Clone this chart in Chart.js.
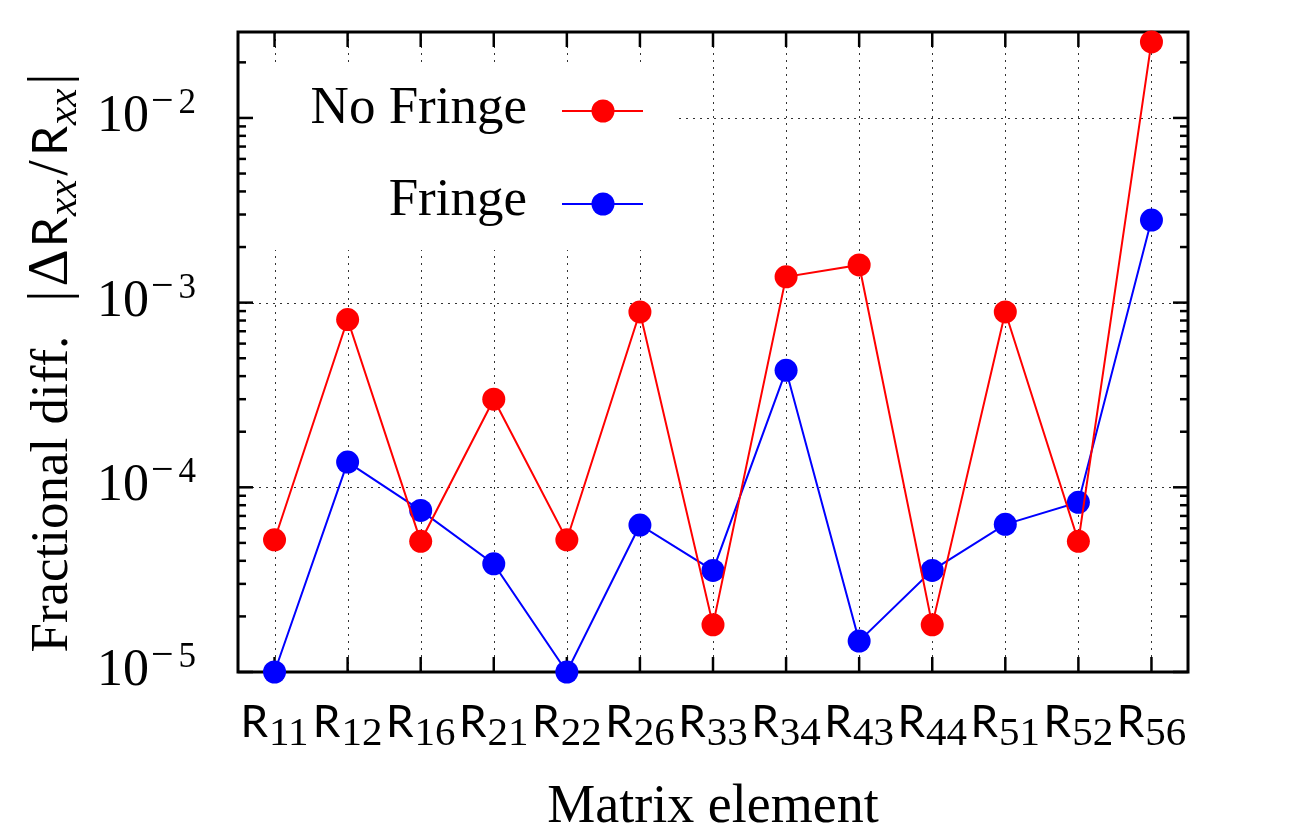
<!DOCTYPE html>
<html>
<head>
<meta charset="utf-8">
<script src="https://cdn.jsdelivr.net/npm/chart.js@4.4.0/dist/chart.umd.min.js"></script>
<style>
    html, body { margin: 0; padding: 0; background: #fff; }
    #wrap { width: 1302px; height: 837px; }
</style>
</head>
<body>
<div id="wrap"><canvas id="chart" width="1302" height="837"></canvas></div>
<script>
// Matrix elements (letter + subscript)
const categories = ['R11', 'R12', 'R16', 'R21', 'R22', 'R26', 'R33', 'R34', 'R43', 'R44', 'R51', 'R52', 'R56'];

// Fractional differences
const noFringe = [5.2e-5, 8.1e-4, 5.1e-5, 3.0e-4, 5.2e-5, 8.9e-4, 1.8e-5, 1.38e-3, 1.6e-3, 1.8e-5, 8.9e-4, 5.1e-5, 2.58e-2];
const fringe = [1.0e-5, 1.37e-4, 7.5e-5, 3.85e-5, 1.0e-5, 6.25e-5, 3.55e-5, 4.3e-4, 1.47e-5, 3.55e-5, 6.3e-5, 8.3e-5, 2.8e-3];

// Axis
const yTicks = [1e-5, 1e-4, 1e-3, 1e-2];
const yTickExp = ['5', '4', '3', '2'];
const yMin = 1e-5;
const yMax = 2.92e-2;

const SERIF = "'Liberation Serif', 'DejaVu Serif', serif";
const SANS = "Lato, 'Liberation Sans', sans-serif";

function line(ctx, x1, y1, x2, y2) {
    ctx.beginPath();
    ctx.moveTo(x1, y1);
    ctx.lineTo(x2, y2);
    ctx.stroke();
}

// draw a list of [text, font, dy, extra gap] pieces starting at x
function drawPieces(ctx, pieces, x, y) {
    let cx = x;
    pieces.forEach(p => {
        ctx.font = p[1];
        ctx.fillText(p[0], cx, y + (p[2] || 0));
        cx += ctx.measureText(p[0]).width + (p[3] || 0);
    });
}
function piecesWidth(ctx, pieces) {
    let w = 0;
    pieces.forEach(p => {
        ctx.font = p[1];
        w += ctx.measureText(p[0]).width + (p[3] || 0);
    });
    return w;
}

const frame = {
    id: 'frame',
    beforeDatasetsDraw(chart) {
        const { ctx, chartArea: a, scales: { x, y } } = chart;
        ctx.save();

        // dotted grid
        ctx.strokeStyle = '#333';
        ctx.lineWidth = 1;
        ctx.setLineDash([2, 5]);
        categories.forEach((c, i) => {
            const px = Math.round(x.getPixelForValue(i)) + 0.5;
            line(ctx, px, a.top, px, a.bottom);
        });
        yTicks.forEach(v => {
            const py = Math.round(y.getPixelForValue(v)) + 0.5;
            line(ctx, a.left, py, a.right, py);
        });
        ctx.setLineDash([]);

        // legend background hides the grid
        ctx.fillStyle = '#fff';
        ctx.fillRect(a.left + 10, a.top + 31, 430, 187);

        // tick marks, inward on all sides
        ctx.strokeStyle = '#000';
        ctx.lineWidth = 2.5;
        categories.forEach((c, i) => {
            const px = x.getPixelForValue(i);
            line(ctx, px, a.bottom, px, a.bottom - 15);
            line(ctx, px, a.top, px, a.top + 15);
        });
        yTicks.forEach(d => {
            const py = y.getPixelForValue(d);
            line(ctx, a.left, py, a.left + 15, py);
            line(ctx, a.right, py, a.right - 15, py);
            for (let m = 2; m <= 9; m++) {
                const v = m * d;
                if (v > yMax) break;
                const pm = y.getPixelForValue(v);
                line(ctx, a.left, pm, a.left + 8, pm);
                line(ctx, a.right, pm, a.right - 8, pm);
            }
        });

        // box
        ctx.lineWidth = 3;
        ctx.strokeRect(a.left, a.top, a.right - a.left, a.bottom - a.top);

        // y tick labels 10^-n
        ctx.fillStyle = '#000';
        ctx.textBaseline = 'alphabetic';
        yTicks.forEach((v, i) => {
            const py = y.getPixelForValue(v);
            ctx.font = '52px ' + SERIF;
            ctx.textAlign = 'right';
            ctx.fillText('10', 149, py + 13);
            ctx.textAlign = 'left';
            drawPieces(ctx, [['\u2212', '40px ' + SERIF, 0, 5], [yTickExp[i], '35px ' + SERIF, 0]], 151, py - 5);
        });

        // x tick labels R with subscript
        ctx.textAlign = 'left';
        categories.forEach((c, i) => {
            const px = x.getPixelForValue(i);
            const pieces = [[c[0], '44px ' + SANS, 0, 1], [c.slice(1), '41px ' + SERIF, 8]];
            const w = piecesWidth(ctx, pieces);
            drawPieces(ctx, pieces, px - w / 2, 737);
        });

        // x title
        ctx.font = '54px ' + SERIF;
        ctx.textAlign = 'center';
        ctx.fillText('Matrix element', (a.left + a.right) / 2, 822);

        // y title, rotated
        ctx.save();
        ctx.translate(67, (a.top + a.bottom) / 2 + 11);
        ctx.rotate(-Math.PI / 2);
        ctx.textAlign = 'left';
        const big = '53px ' + SERIF;
        const sub = 'italic 41px ' + SERIF;
        const rf = '48px ' + SANS;
        const title = [
            ['Fractional diff.', big, 0, 34],
            ['|', '56px ' + SERIF, 0, 4],
            ['\u0394', '58px ' + SERIF, 0, 2],
            ['R', rf, 0, 1],
            ['xx', sub, 9, 4],
            ['/', '56px ' + SERIF, 0, 4],
            ['R', rf, 0, 1],
            ['xx', sub, 9, 4],
            ['|', '56px ' + SERIF, 0]
        ];
        const tw = piecesWidth(ctx, title);
        drawPieces(ctx, title, -tw / 2, 0);
        ctx.restore();

        ctx.restore();
    },
    afterDatasetsDraw(chart) {
        const { ctx } = chart;
        const rows = [
            { text: 'No Fringe', color: '#ff0000', base: 123, my: 111 },
            { text: 'Fringe', color: '#0000ff', base: 215, my: 204 }
        ];
        ctx.save();
        rows.forEach(r => {
            ctx.font = '53px ' + SERIF;
            ctx.fillStyle = '#000';
            ctx.textAlign = 'right';
            ctx.fillText(r.text, 527, r.base);
            ctx.strokeStyle = r.color;
            ctx.lineWidth = 2;
            line(ctx, 562, r.my, 643, r.my);
            ctx.fillStyle = r.color;
            ctx.beginPath();
            ctx.arc(603, r.my, 11.5, 0, Math.PI * 2);
            ctx.fill();
        });
        ctx.restore();
    }
};

new Chart(document.getElementById('chart'), {
    type: 'line',
    data: {
        labels: categories,
        datasets: [
            {
                label: 'No Fringe',
                data: noFringe,
                borderColor: '#ff0000',
                backgroundColor: '#ff0000',
                borderWidth: 2,
                pointRadius: 11.5,
                pointBorderWidth: 0,
                pointBackgroundColor: '#ff0000',
                tension: 0,
                clip: false
            },
            {
                label: 'Fringe',
                data: fringe,
                borderColor: '#0000ff',
                backgroundColor: '#0000ff',
                borderWidth: 2,
                pointRadius: 11.5,
                pointBorderWidth: 0,
                pointBackgroundColor: '#0000ff',
                tension: 0,
                clip: false
            }
        ]
    },
    options: {
        responsive: false,
        animation: false,
        devicePixelRatio: 1,
        layout: {
            padding: { left: 238, right: 114, top: 32, bottom: 165 }
        },
        plugins: {
            legend: { display: false },
            tooltip: { enabled: false }
        },
        scales: {
            x: {
                type: 'category',
                offset: true,
                display: false
            },
            y: {
                type: 'logarithmic',
                min: yMin,
                max: yMax,
                display: false
            }
        }
    },
    plugins: [frame]
});
</script>
</body>
</html>
